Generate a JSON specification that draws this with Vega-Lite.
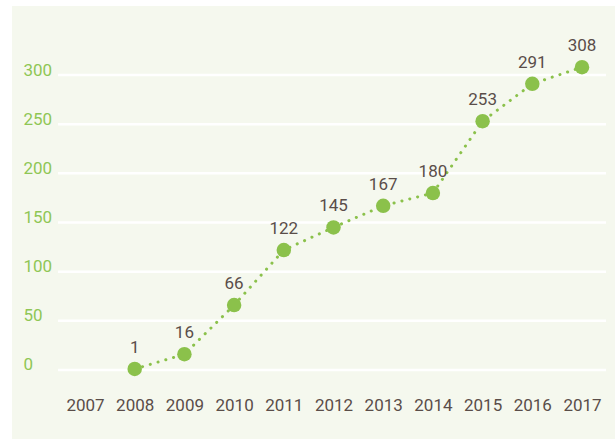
{
  "$schema": "https://vega.github.io/schema/vega-lite/v6.json",
  "width": 603,
  "height": 433,
  "autosize": {"type": "none"},
  "padding": {"left": 12, "top": 6, "right": 0, "bottom": 0},
  "background": "#ffffff",
  "config": {
    "view": {"fill": "#f5f8ee", "stroke": null},
    "font": "Roboto, sans-serif"
  },
  "datasets": {
    "series": [
      {"year": 2008, "value": 1},
      {"year": 2009, "value": 16},
      {"year": 2010, "value": 66},
      {"year": 2011, "value": 122},
      {"year": 2012, "value": 145},
      {"year": 2013, "value": 167},
      {"year": 2014, "value": 180},
      {"year": 2015, "value": 253},
      {"year": 2016, "value": 291},
      {"year": 2017, "value": 308}
    ],
    "grid": [{"v": 0}, {"v": 50}, {"v": 100}, {"v": 150}, {"v": 200}, {"v": 250}, {"v": 300}]
  },
  "layer": [
    {
      "data": {"name": "grid"},
      "mark": {"type": "rule", "color": "#ffffff", "strokeWidth": 2.5},
      "encoding": {
        "y": {"field": "v", "type": "quantitative", "scale": {"domain": [-70.2, 370.2], "nice": false, "zero": false},
          "axis": {"values": [0, 50, 100, 150, 200, 250, 300], "offset": -11, "labelAlign": "left", "labelBaseline": "alphabetic", "labelPadding": 0, "ticks": false, "tickSize": 0, "domain": false, "grid": false, "labelColor": "#8fc655", "labelFontSize": 17, "labelFontWeight": 400, "title": null}},
        "x": {"datum": 2006.457, "type": "quantitative", "scale": {"domain": [2005.531, 2017.664], "nice": false, "zero": false},
          "axis": {"values": [2007, 2008, 2009, 2010, 2011, 2012, 2013, 2014, 2015, 2016, 2017], "format": "d", "offset": -29, "labelBaseline": "alphabetic", "labelPadding": 0, "ticks": false, "tickSize": 0, "domain": false, "grid": false, "labelColor": "#5a4d49", "labelFontSize": 17, "labelFontWeight": 400, "labelFlush": false, "labelOverlap": false, "title": null}},
        "x2": {"datum": 2017.483}
      }
    },
    {
      "data": {"name": "series"},
      "mark": {"type": "line", "color": "#8bc14b", "strokeWidth": 3, "strokeDash": [0.1, 8], "strokeCap": "round"},
      "encoding": {
        "x": {"field": "year", "type": "quantitative"},
        "y": {"field": "value", "type": "quantitative"}
      }
    },
    {
      "data": {"name": "series"},
      "mark": {"type": "point", "filled": true, "opacity": 1, "color": "#8bc14b", "size": 210, "shape": "circle"},
      "encoding": {
        "x": {"field": "year", "type": "quantitative"},
        "y": {"field": "value", "type": "quantitative"}
      }
    },
    {
      "data": {"name": "series"},
      "mark": {"type": "text", "color": "#5a4d49", "fontSize": 17, "fontWeight": 400, "baseline": "alphabetic", "dy": -16},
      "encoding": {
        "x": {"field": "year", "type": "quantitative"},
        "y": {"field": "value", "type": "quantitative"},
        "text": {"field": "value", "type": "quantitative"}
      }
    }
  ]
}
